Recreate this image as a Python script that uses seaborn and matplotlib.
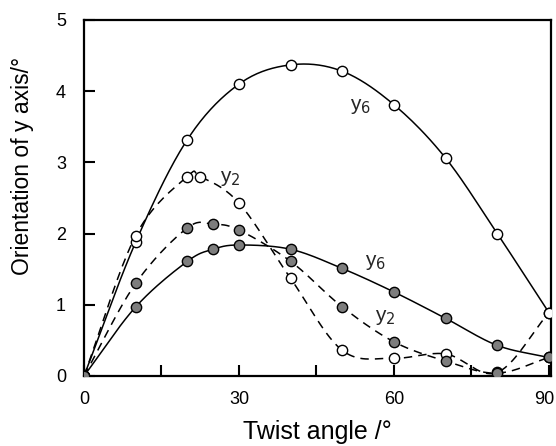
"""Orientation of the y axis vs twist angle, open/filled y6 and y2 series."""
import matplotlib

matplotlib.use("Agg")
import matplotlib.pyplot as plt
import matplotlib.transforms as mtransforms
import numpy as np
import pandas as pd
import seaborn as sns

# twist angle (deg) and orientation (deg)
x_open_y6 = [0, 10, 20, 30, 40, 50, 60, 70, 80, 90]
open_y6 = [0, 1.88, 3.32, 4.10, 4.37, 4.28, 3.81, 3.06, 2.00, 0.89]

x_open_y2 = [0, 10, 20, 22.5, 30, 40, 50, 60, 70, 80, 90]
open_y2 = [0, 1.97, 2.80, 2.80, 2.43, 1.37, 0.36, 0.25, 0.31, 0.05, 0.89]

x_fill_y6 = [0, 10, 20, 25, 30, 40, 50, 60, 70, 80, 90]
fill_y6 = [0, 0.97, 1.61, 1.78, 1.84, 1.78, 1.51, 1.18, 0.81, 0.43, 0.26]

x_fill_y2 = [0, 10, 20, 25, 30, 40, 50, 60, 70, 80, 90]
fill_y2 = [0, 1.30, 2.08, 2.13, 2.05, 1.61, 0.97, 0.48, 0.21, 0.04, 0.26]

# curve labels: (text, x, y)
curve_labels = [("y$_6$", 53.5, 3.78), ("y$_2$", 28.3, 2.77),
                ("y$_6$", 56.5, 1.60), ("y$_2$", 58.3, 0.82)]


def smooth(x, y, n=20):
    """Catmull-Rom curve through the measured points (for drawing only)."""
    x = np.asarray(x, float)
    y = np.asarray(y, float)
    px = np.r_[2 * x[0] - x[1], x, 2 * x[-1] - x[-2]]
    py = np.r_[2 * y[0] - y[1], y, 2 * y[-1] - y[-2]]
    xs, ys = [], []
    t = np.linspace(0, 1, n, endpoint=False)
    for i in range(1, len(px) - 2):
        for p, out in ((px, xs), (py, ys)):
            p0, p1, p2, p3 = p[i - 1], p[i], p[i + 1], p[i + 2]
            out.extend(0.5 * (2 * p1 + (-p0 + p2) * t
                              + (2 * p0 - 5 * p1 + 4 * p2 - p3) * t ** 2
                              + (-p0 + 3 * p1 - 3 * p2 + p3) * t ** 3))
    xs.append(x[-1])
    ys.append(y[-1])
    return pd.DataFrame({"x": xs, "y": ys})


sns.set_theme(style="ticks")
plt.rcParams["font.family"] = ["Liberation Sans", "DejaVu Sans"]

fig = plt.figure(figsize=(5.56, 4.46), dpi=100)
ax = fig.add_axes([84 / 556, 70 / 446, 467 / 556, 356 / 446])

series = [
    (x_open_y6, open_y6, "solid", "white"),
    (x_open_y2, open_y2, "dashed", "white"),
    (x_fill_y6, fill_y6, "solid", "#7d7d7d"),
    (x_fill_y2, fill_y2, "dashed", "#7d7d7d"),
]
for xs, ys, style, face in series:
    curve = smooth(xs, ys)
    sns.lineplot(data=curve, x="x", y="y", color="black", lw=1.1,
                 sort=False, estimator=None, ax=ax)
    if style == "dashed":
        ax.lines[-1].set_dashes((5.5, 4))
    sns.scatterplot(x=xs, y=ys, s=55, color=face, edgecolor="black",
                    linewidth=1.0, zorder=3, ax=ax)

for text, tx, ty in curve_labels:
    ax.text(tx, ty, text, fontsize=15, ha="center", va="center")

ax.set_xlim(0, 90.4)
ax.set_ylim(0, 5)
ax.set_xticks([0, 30, 60, 90])
ax.set_xticks([15, 45, 75], minor=True)
ax.set_yticks([0, 1, 2, 3, 4, 5])
ax.tick_params(which="both", direction="in", width=1.5, length=8,
               labelsize=13, labelcolor="black", color="black")
ax.tick_params(axis="x", pad=11)
ax.tick_params(axis="y", pad=13)
for side in ax.spines.values():
    side.set_linewidth(1.6)
    side.set_color("black")
ax.set_xlabel("Twist angle /°", fontsize=18, color="black")
ax.set_ylabel("Orientation of y axis/°", fontsize=16.5, color="black")
ax.xaxis.set_label_coords(0.5, -0.125)
ax.yaxis.set_label_coords(-0.107, 0.59)

# keep the "90" label inside the figure, as in the original
last = ax.get_xticklabels()[-1]
last.set_transform(last.get_transform()
                   + mtransforms.ScaledTranslation(-5 / 100, 0,
                                                   fig.dpi_scale_trans))

fig.savefig("out.png", dpi=100)
